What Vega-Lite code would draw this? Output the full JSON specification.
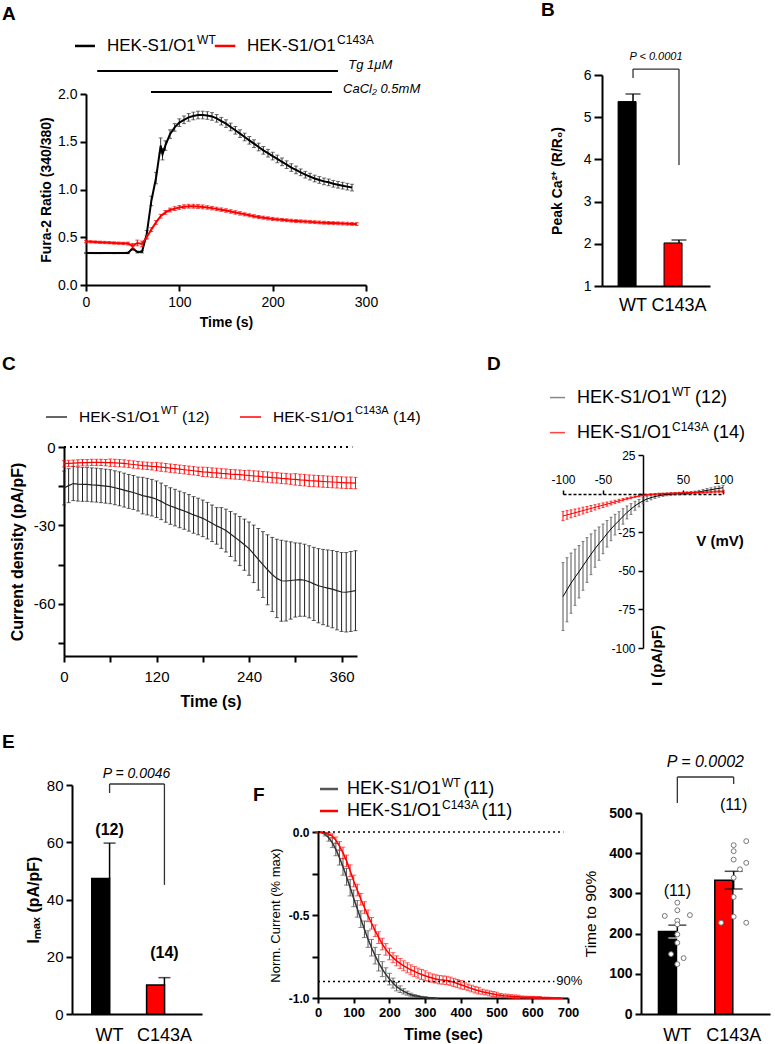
{
"$schema":"https://vega.github.io/schema/vega-lite/v6.json",
"padding":0,
"background":"white",
"config":{
 "view":{"stroke":null},
 "font":"Liberation Sans",
 "axis":{"domainColor":"#000","domainWidth":2,"tickColor":"#000","tickWidth":2,"tickSize":6,"labelColor":"#000","titleColor":"#000","grid":false,"labelFont":"Liberation Sans","titleFont":"Liberation Sans","labelFlush":false,"labelOverlap":false,"labelBound":false,"titleFontWeight":"bold"},
 "text":{"font":"Liberation Sans","color":"#000"}
},
"datasets":{
 "aWT":[{"t":0,"m":0.335,"s":0.006},{"t":5,"m":0.335,"s":0.006},{"t":10,"m":0.334,"s":0.006},{"t":15,"m":0.334,"s":0.006},{"t":20,"m":0.335,"s":0.006},{"t":25,"m":0.335,"s":0.006},{"t":30,"m":0.334,"s":0.006},{"t":35,"m":0.335,"s":0.006},{"t":40,"m":0.335,"s":0.006},{"t":45,"m":0.336,"s":0.008},{"t":50,"m":0.385,"s":0.02},{"t":55,"m":0.345,"s":0.01},{"t":60,"m":0.348,"s":0.012},{"t":65,"m":0.53,"s":0.04},{"t":70,"m":0.88,"s":0.05},{"t":75,"m":1.12,"s":0.06},{"t":80,"m":1.46,"s":0.08},{"t":82,"m":1.37,"s":0.06},{"t":85,"m":1.46,"s":0.05},{"t":90,"m":1.58,"s":0.045},{"t":95,"m":1.65,"s":0.04},{"t":100,"m":1.7,"s":0.04},{"t":105,"m":1.73,"s":0.04},{"t":110,"m":1.755,"s":0.04},{"t":115,"m":1.77,"s":0.04},{"t":120,"m":1.78,"s":0.04},{"t":125,"m":1.78,"s":0.04},{"t":130,"m":1.775,"s":0.04},{"t":135,"m":1.765,"s":0.04},{"t":140,"m":1.745,"s":0.04},{"t":145,"m":1.715,"s":0.04},{"t":150,"m":1.69,"s":0.04},{"t":155,"m":1.655,"s":0.04},{"t":160,"m":1.62,"s":0.04},{"t":165,"m":1.585,"s":0.04},{"t":170,"m":1.55,"s":0.04},{"t":175,"m":1.515,"s":0.04},{"t":180,"m":1.48,"s":0.04},{"t":185,"m":1.445,"s":0.04},{"t":190,"m":1.41,"s":0.04},{"t":195,"m":1.38,"s":0.04},{"t":200,"m":1.35,"s":0.04},{"t":205,"m":1.32,"s":0.04},{"t":210,"m":1.29,"s":0.04},{"t":215,"m":1.26,"s":0.04},{"t":220,"m":1.23,"s":0.04},{"t":225,"m":1.205,"s":0.04},{"t":230,"m":1.18,"s":0.035},{"t":235,"m":1.155,"s":0.035},{"t":240,"m":1.135,"s":0.035},{"t":245,"m":1.115,"s":0.035},{"t":250,"m":1.1,"s":0.035},{"t":255,"m":1.085,"s":0.035},{"t":260,"m":1.075,"s":0.035},{"t":265,"m":1.06,"s":0.035},{"t":270,"m":1.05,"s":0.035},{"t":275,"m":1.04,"s":0.035},{"t":280,"m":1.03,"s":0.035},{"t":285,"m":1.02,"s":0.035}],
 "aMut":[{"t":0,"m":0.455,"s":0.012},{"t":5,"m":0.452,"s":0.012},{"t":10,"m":0.45,"s":0.012},{"t":15,"m":0.447,"s":0.012},{"t":20,"m":0.445,"s":0.012},{"t":25,"m":0.443,"s":0.012},{"t":30,"m":0.44,"s":0.012},{"t":35,"m":0.438,"s":0.012},{"t":40,"m":0.436,"s":0.012},{"t":45,"m":0.434,"s":0.015},{"t":50,"m":0.41,"s":0.025},{"t":55,"m":0.44,"s":0.03},{"t":60,"m":0.43,"s":0.03},{"t":65,"m":0.5,"s":0.02},{"t":70,"m":0.58,"s":0.02},{"t":75,"m":0.655,"s":0.02},{"t":80,"m":0.72,"s":0.02},{"t":85,"m":0.76,"s":0.02},{"t":90,"m":0.785,"s":0.02},{"t":95,"m":0.8,"s":0.02},{"t":100,"m":0.812,"s":0.02},{"t":105,"m":0.82,"s":0.02},{"t":110,"m":0.825,"s":0.02},{"t":115,"m":0.825,"s":0.02},{"t":120,"m":0.822,"s":0.02},{"t":125,"m":0.818,"s":0.02},{"t":130,"m":0.812,"s":0.018},{"t":135,"m":0.805,"s":0.018},{"t":140,"m":0.797,"s":0.018},{"t":145,"m":0.789,"s":0.018},{"t":150,"m":0.78,"s":0.018},{"t":155,"m":0.77,"s":0.018},{"t":160,"m":0.76,"s":0.018},{"t":165,"m":0.75,"s":0.018},{"t":170,"m":0.74,"s":0.016},{"t":175,"m":0.73,"s":0.016},{"t":180,"m":0.72,"s":0.016},{"t":185,"m":0.712,"s":0.016},{"t":190,"m":0.705,"s":0.016},{"t":195,"m":0.698,"s":0.016},{"t":200,"m":0.692,"s":0.016},{"t":205,"m":0.687,"s":0.015},{"t":210,"m":0.682,"s":0.015},{"t":215,"m":0.678,"s":0.015},{"t":220,"m":0.674,"s":0.015},{"t":225,"m":0.67,"s":0.015},{"t":230,"m":0.667,"s":0.015},{"t":235,"m":0.664,"s":0.015},{"t":240,"m":0.661,"s":0.015},{"t":245,"m":0.658,"s":0.015},{"t":250,"m":0.655,"s":0.015},{"t":255,"m":0.652,"s":0.015},{"t":260,"m":0.65,"s":0.015},{"t":265,"m":0.648,"s":0.015},{"t":270,"m":0.646,"s":0.015},{"t":275,"m":0.644,"s":0.015},{"t":280,"m":0.642,"s":0.015},{"t":285,"m":0.64,"s":0.015},{"t":290,"m":0.638,"s":0.015}],
 "bBars":[{"g":"WT","m":5.37,"hi":5.55},{"g":"C143A","m":2.02,"hi":2.09}],
 "cWT":[{"t":0,"m":-15.7,"s":6.5},{"t":6,"m":-14.8,"s":6.5},{"t":12,"m":-14.0,"s":6.5},{"t":18,"m":-14.2,"s":6.5},{"t":24,"m":-14.3,"s":6.5},{"t":30,"m":-14.3,"s":6.5},{"t":36,"m":-14.5,"s":6.5},{"t":42,"m":-14.6,"s":6.5},{"t":48,"m":-14.8,"s":6.5},{"t":54,"m":-15.0,"s":6.5},{"t":60,"m":-15.2,"s":6.5},{"t":66,"m":-15.6,"s":6.5},{"t":72,"m":-16.0,"s":6.5},{"t":78,"m":-16.5,"s":6.5},{"t":84,"m":-17.0,"s":6.5},{"t":90,"m":-17.4,"s":6.5},{"t":96,"m":-18.0,"s":6.5},{"t":102,"m":-18.6,"s":7},{"t":108,"m":-19.0,"s":7},{"t":114,"m":-19.4,"s":7},{"t":120,"m":-20.0,"s":7},{"t":126,"m":-20.8,"s":7},{"t":132,"m":-21.8,"s":7},{"t":138,"m":-22.6,"s":7},{"t":144,"m":-23.2,"s":7},{"t":150,"m":-23.9,"s":7},{"t":156,"m":-24.5,"s":7},{"t":162,"m":-25.2,"s":7},{"t":168,"m":-26.0,"s":7},{"t":174,"m":-26.6,"s":7},{"t":180,"m":-27.3,"s":7},{"t":186,"m":-28.2,"s":7},{"t":192,"m":-29.2,"s":7},{"t":198,"m":-30.2,"s":7},{"t":204,"m":-31.0,"s":7.8},{"t":210,"m":-32.0,"s":8.2},{"t":216,"m":-33.3,"s":8.6},{"t":222,"m":-34.6,"s":9},{"t":228,"m":-36.0,"s":9.4},{"t":234,"m":-37.4,"s":9.8},{"t":240,"m":-38.9,"s":10.2},{"t":246,"m":-40.9,"s":11},{"t":252,"m":-43.0,"s":11.8},{"t":258,"m":-45.0,"s":12.6},{"t":264,"m":-47.0,"s":13.4},{"t":270,"m":-48.8,"s":14.2},{"t":276,"m":-50.3,"s":15},{"t":282,"m":-51.2,"s":15.5},{"t":288,"m":-51.3,"s":15.3},{"t":294,"m":-51.1,"s":14.8},{"t":300,"m":-50.9,"s":14.2},{"t":306,"m":-50.8,"s":14},{"t":312,"m":-51.0,"s":13.8},{"t":318,"m":-51.6,"s":13.8},{"t":324,"m":-52.4,"s":14},{"t":330,"m":-53.1,"s":14.2},{"t":336,"m":-53.6,"s":14.4},{"t":342,"m":-54.0,"s":14.6},{"t":348,"m":-54.4,"s":14.8},{"t":354,"m":-55.0,"s":15},{"t":360,"m":-55.5,"s":15.1},{"t":366,"m":-55.6,"s":15.2},{"t":372,"m":-55.3,"s":15.3},{"t":378,"m":-55.0,"s":15.3}],
 "cMut":[{"t":0,"m":-6.4,"s":1.2},{"t":6,"m":-6.3,"s":1.2},{"t":12,"m":-6.2,"s":1.2},{"t":18,"m":-6.1,"s":1.2},{"t":24,"m":-6.0,"s":1.2},{"t":30,"m":-6.0,"s":1.2},{"t":36,"m":-5.9,"s":1.2},{"t":42,"m":-5.9,"s":1.2},{"t":48,"m":-5.9,"s":1.2},{"t":54,"m":-6.0,"s":1.2},{"t":60,"m":-6.0,"s":1.4},{"t":66,"m":-6.1,"s":1.4},{"t":72,"m":-6.2,"s":1.4},{"t":78,"m":-6.3,"s":1.4},{"t":84,"m":-6.5,"s":1.4},{"t":90,"m":-6.7,"s":1.4},{"t":96,"m":-6.9,"s":1.4},{"t":102,"m":-7.1,"s":1.4},{"t":108,"m":-7.2,"s":1.4},{"t":114,"m":-7.4,"s":1.4},{"t":120,"m":-7.5,"s":1.6},{"t":126,"m":-7.7,"s":1.6},{"t":132,"m":-7.9,"s":1.6},{"t":138,"m":-8.1,"s":1.6},{"t":144,"m":-8.3,"s":1.6},{"t":150,"m":-8.5,"s":1.6},{"t":156,"m":-8.7,"s":1.6},{"t":162,"m":-8.9,"s":1.6},{"t":168,"m":-9.1,"s":1.6},{"t":174,"m":-9.3,"s":1.6},{"t":180,"m":-9.5,"s":1.8},{"t":186,"m":-9.6,"s":1.8},{"t":192,"m":-9.8,"s":1.8},{"t":198,"m":-9.9,"s":1.8},{"t":204,"m":-10.1,"s":1.8},{"t":210,"m":-10.2,"s":1.8},{"t":216,"m":-10.4,"s":1.8},{"t":222,"m":-10.5,"s":1.8},{"t":228,"m":-10.6,"s":1.8},{"t":234,"m":-10.8,"s":1.8},{"t":240,"m":-10.9,"s":2},{"t":246,"m":-11.1,"s":2},{"t":252,"m":-11.2,"s":2},{"t":258,"m":-11.4,"s":2},{"t":264,"m":-11.5,"s":2},{"t":270,"m":-11.7,"s":2},{"t":276,"m":-11.8,"s":2},{"t":282,"m":-12.0,"s":2},{"t":288,"m":-12.1,"s":2},{"t":294,"m":-12.3,"s":2},{"t":300,"m":-12.4,"s":2.2},{"t":306,"m":-12.6,"s":2.2},{"t":312,"m":-12.7,"s":2.2},{"t":318,"m":-12.9,"s":2.2},{"t":324,"m":-13.0,"s":2.2},{"t":330,"m":-13.1,"s":2.2},{"t":336,"m":-13.2,"s":2.2},{"t":342,"m":-13.3,"s":2.2},{"t":348,"m":-13.4,"s":2.2},{"t":354,"m":-13.5,"s":2.2},{"t":360,"m":-13.6,"s":2.2},{"t":366,"m":-13.7,"s":2.2},{"t":372,"m":-13.7,"s":2.2},{"t":378,"m":-13.8,"s":2.2}],
 "dWT":[{"v":-100,"m":-66.7,"s":22},{"v":-95,"m":-62.3,"s":20.8},{"v":-90,"m":-58,"s":19.5},{"v":-85,"m":-54.2,"s":18.2},{"v":-80,"m":-50.6,"s":17},{"v":-75,"m":-46.8,"s":15.8},{"v":-70,"m":-43,"s":14.5},{"v":-65,"m":-39.3,"s":13.2},{"v":-60,"m":-35.7,"s":12},{"v":-55,"m":-32.4,"s":10.8},{"v":-50,"m":-29.3,"s":9.6},{"v":-45,"m":-26,"s":8.6},{"v":-40,"m":-22.9,"s":7.6},{"v":-35,"m":-20.1,"s":6.7},{"v":-30,"m":-17.5,"s":5.8},{"v":-25,"m":-14.8,"s":5},{"v":-20,"m":-12.2,"s":4.2},{"v":-15,"m":-10,"s":3.5},{"v":-10,"m":-7.9,"s":2.9},{"v":-5,"m":-6.2,"s":2.4},{"v":0,"m":-4.7,"s":2},{"v":5,"m":-3.5,"s":1.7},{"v":10,"m":-2.6,"s":1.4},{"v":15,"m":-1.9,"s":1.2},{"v":20,"m":-1.3,"s":1},{"v":25,"m":-0.9,"s":0.9},{"v":30,"m":-0.6,"s":0.8},{"v":35,"m":-0.4,"s":0.75},{"v":40,"m":-0.2,"s":0.7},{"v":45,"m":-0.1,"s":0.7},{"v":50,"m":0,"s":0.7},{"v":55,"m":0.2,"s":0.75},{"v":60,"m":0.4,"s":0.8},{"v":65,"m":0.7,"s":0.9},{"v":70,"m":1.1,"s":1},{"v":75,"m":1.6,"s":1.1},{"v":80,"m":2.1,"s":1.2},{"v":85,"m":2.5,"s":1.3},{"v":90,"m":3,"s":1.4},{"v":95,"m":3.4,"s":1.5},{"v":100,"m":3.8,"s":1.6}],
 "dMut":[{"v":-100,"m":-14.5,"s":3},{"v":-95,"m":-13.8,"s":2.8},{"v":-90,"m":-13.1,"s":2.6},{"v":-85,"m":-12.4,"s":2.45},{"v":-80,"m":-11.7,"s":2.3},{"v":-75,"m":-11,"s":2.2},{"v":-70,"m":-10.3,"s":2},{"v":-65,"m":-9.6,"s":1.9},{"v":-60,"m":-8.9,"s":1.75},{"v":-55,"m":-8.2,"s":1.6},{"v":-50,"m":-7.5,"s":1.5},{"v":-45,"m":-6.8,"s":1.35},{"v":-40,"m":-6.1,"s":1.2},{"v":-35,"m":-5.4,"s":1.1},{"v":-30,"m":-4.7,"s":1},{"v":-25,"m":-4,"s":0.8},{"v":-20,"m":-3.3,"s":0.7},{"v":-15,"m":-2.7,"s":0.6},{"v":-10,"m":-2.1,"s":0.5},{"v":-5,"m":-1.6,"s":0.45},{"v":0,"m":-1.2,"s":0.4},{"v":5,"m":-0.8,"s":0.4},{"v":10,"m":-0.5,"s":0.4},{"v":15,"m":-0.3,"s":0.4},{"v":20,"m":-0.1,"s":0.4},{"v":25,"m":0,"s":0.4},{"v":30,"m":0.1,"s":0.4},{"v":35,"m":0.2,"s":0.45},{"v":40,"m":0.3,"s":0.45},{"v":45,"m":0.4,"s":0.45},{"v":50,"m":0.5,"s":0.45},{"v":55,"m":0.6,"s":0.5},{"v":60,"m":0.65,"s":0.5},{"v":65,"m":0.7,"s":0.5},{"v":70,"m":0.8,"s":0.5},{"v":75,"m":0.85,"s":0.55},{"v":80,"m":0.9,"s":0.55},{"v":85,"m":1,"s":0.55},{"v":90,"m":1.1,"s":0.6},{"v":95,"m":1.2,"s":0.6},{"v":100,"m":1.3,"s":0.6}],
 "eBars":[{"g":"WT","m":47.3,"hi":59.7},{"g":"C143A","m":10.1,"hi":12.7}],
 "fWT":[{"t":0,"m":0,"s":0},{"t":10,"m":-0.003,"s":0.003},{"t":20,"m":-0.014,"s":0.01},{"t":30,"m":-0.035,"s":0.02},{"t":40,"m":-0.064,"s":0.03},{"t":50,"m":-0.105,"s":0.038},{"t":60,"m":-0.154,"s":0.045},{"t":70,"m":-0.21,"s":0.05},{"t":80,"m":-0.27,"s":0.05},{"t":90,"m":-0.335,"s":0.05},{"t":100,"m":-0.4,"s":0.05},{"t":110,"m":-0.463,"s":0.05},{"t":120,"m":-0.525,"s":0.05},{"t":130,"m":-0.586,"s":0.05},{"t":140,"m":-0.645,"s":0.05},{"t":150,"m":-0.697,"s":0.05},{"t":160,"m":-0.745,"s":0.05},{"t":170,"m":-0.788,"s":0.05},{"t":180,"m":-0.826,"s":0.045},{"t":190,"m":-0.858,"s":0.04},{"t":200,"m":-0.886,"s":0.035},{"t":210,"m":-0.91,"s":0.03},{"t":220,"m":-0.932,"s":0.025},{"t":230,"m":-0.947,"s":0.02},{"t":240,"m":-0.96,"s":0.016},{"t":250,"m":-0.971,"s":0.012},{"t":260,"m":-0.98,"s":0.009},{"t":270,"m":-0.986,"s":0.007},{"t":280,"m":-0.99,"s":0.005},{"t":290,"m":-0.994,"s":0.004},{"t":300,"m":-0.996,"s":0.003},{"t":310,"m":-0.998,"s":0.002},{"t":320,"m":-0.999,"s":0.001},{"t":330,"m":-1,"s":0}],
 "fMut":[{"t":0,"m":0,"s":0},{"t":10,"m":-0.001,"s":0.001},{"t":20,"m":-0.006,"s":0.004},{"t":30,"m":-0.013,"s":0.008},{"t":40,"m":-0.024,"s":0.013},{"t":50,"m":-0.05,"s":0.02},{"t":60,"m":-0.084,"s":0.026},{"t":70,"m":-0.126,"s":0.035},{"t":80,"m":-0.174,"s":0.035},{"t":90,"m":-0.233,"s":0.035},{"t":100,"m":-0.295,"s":0.035},{"t":110,"m":-0.35,"s":0.035},{"t":120,"m":-0.405,"s":0.035},{"t":130,"m":-0.455,"s":0.035},{"t":140,"m":-0.505,"s":0.035},{"t":150,"m":-0.55,"s":0.035},{"t":160,"m":-0.595,"s":0.035},{"t":170,"m":-0.636,"s":0.035},{"t":180,"m":-0.675,"s":0.035},{"t":190,"m":-0.707,"s":0.035},{"t":200,"m":-0.735,"s":0.035},{"t":210,"m":-0.757,"s":0.03},{"t":220,"m":-0.776,"s":0.03},{"t":230,"m":-0.792,"s":0.03},{"t":240,"m":-0.806,"s":0.03},{"t":250,"m":-0.818,"s":0.03},{"t":260,"m":-0.83,"s":0.03},{"t":270,"m":-0.84,"s":0.03},{"t":280,"m":-0.85,"s":0.03},{"t":290,"m":-0.858,"s":0.03},{"t":300,"m":-0.866,"s":0.03},{"t":310,"m":-0.873,"s":0.025},{"t":320,"m":-0.88,"s":0.025},{"t":330,"m":-0.885,"s":0.025},{"t":340,"m":-0.89,"s":0.025},{"t":350,"m":-0.892,"s":0.025},{"t":360,"m":-0.894,"s":0.025},{"t":370,"m":-0.899,"s":0.025},{"t":380,"m":-0.906,"s":0.025},{"t":390,"m":-0.913,"s":0.025},{"t":400,"m":-0.92,"s":0.025},{"t":410,"m":-0.928,"s":0.02},{"t":420,"m":-0.936,"s":0.02},{"t":430,"m":-0.943,"s":0.02},{"t":440,"m":-0.95,"s":0.02},{"t":450,"m":-0.956,"s":0.02},{"t":460,"m":-0.962,"s":0.015},{"t":470,"m":-0.967,"s":0.015},{"t":480,"m":-0.972,"s":0.015},{"t":490,"m":-0.976,"s":0.015},{"t":500,"m":-0.98,"s":0.015},{"t":510,"m":-0.983,"s":0.01},{"t":520,"m":-0.986,"s":0.01},{"t":530,"m":-0.988,"s":0.01},{"t":540,"m":-0.99,"s":0.01},{"t":550,"m":-0.992,"s":0.01},{"t":560,"m":-0.993,"s":0.01},{"t":570,"m":-0.994,"s":0.006},{"t":580,"m":-0.995,"s":0.006},{"t":590,"m":-0.996,"s":0.006},{"t":600,"m":-0.996,"s":0.006},{"t":610,"m":-0.997,"s":0.006},{"t":620,"m":-0.997,"s":0.006},{"t":630,"m":-0.998,"s":0.003},{"t":640,"m":-0.998,"s":0.003},{"t":650,"m":-0.999,"s":0.003},{"t":660,"m":-1,"s":0.003},{"t":670,"m":-1,"s":0.003},{"t":680,"m":-1,"s":0.003}],
 "frBars":[{"g":"WT","m":205,"lo":189,"hi":221},{"g":"C143A","m":333,"lo":311,"hi":355}],
 "frPts":[{"g":"WT","col":"c","v":277},{"g":"WT","col":"c","v":258},{"g":"WT","col":"l2","v":244},{"g":"WT","col":"r2","v":246},{"g":"WT","col":"c","v":232},{"g":"WT","col":"c","v":223},{"g":"WT","col":"c","v":198},{"g":"WT","col":"c","v":177},{"g":"WT","col":"l1","v":149},{"g":"WT","col":"r1","v":139},{"g":"WT","col":"c","v":124},{"g":"C143A","col":"r2","v":430},{"g":"C143A","col":"c","v":420},{"g":"C143A","col":"c","v":405},{"g":"C143A","col":"c","v":384},{"g":"C143A","col":"r2","v":376},{"g":"C143A","col":"r1","v":360},{"g":"C143A","col":"c","v":339},{"g":"C143A","col":"c","v":291},{"g":"C143A","col":"c","v":242},{"g":"C143A","col":"l2","v":227},{"g":"C143A","col":"r2","v":227}]
},
"vconcat":[
 {"hconcat":[
  {"width":540,"height":340,"data":{"values":[{}]},"layer":[
   {"data":{"name":"aWT"},"mark":{"type":"errorbar","ticks":true,"color":"#333","size":4,"thickness":1},
    "encoding":{"x":{"field":"t","type":"quantitative","title":"Time (s)","scale":{"domain":[0,300],"range":[86,366],"nice":false,"zero":false},"axis":{"title":"Time (s)","values":[0,100,200,300],"offset":-56,"labelFontSize":14,"titleFontSize":14,"labelPadding":4,"titlePadding":6}},
     "y":{"field":"m","type":"quantitative","title":"Fura-2 Ratio (340/380)","scale":{"domain":[0,2],"range":[284,93],"nice":false,"zero":false},"axis":{"title":"Fura-2 Ratio (340/380)","values":[0,0.5,1,1.5,2],"format":".1f","offset":-86,"labelFontSize":14,"titleFontSize":14,"labelPadding":3,"titlePadding":4}},
     "yError":{"field":"s"}}},
   {"data":{"name":"aWT"},"mark":{"type":"line","color":"#000","strokeWidth":2},"encoding":{"x":{"field":"t","type":"quantitative","title":"Time (s)"},"y":{"field":"m","type":"quantitative","title":"Fura-2 Ratio (340/380)"}}},
   {"data":{"name":"aMut"},"mark":{"type":"errorbar","ticks":true,"color":"#ff0000","size":4,"thickness":1},"encoding":{"x":{"field":"t","type":"quantitative","title":"Time (s)"},"y":{"field":"m","type":"quantitative","title":"Fura-2 Ratio (340/380)"},"yError":{"field":"s"}}},
   {"data":{"name":"aMut"},"mark":{"type":"line","color":"#ff0000","strokeWidth":2},"encoding":{"x":{"field":"t","type":"quantitative","title":"Time (s)"},"y":{"field":"m","type":"quantitative","title":"Fura-2 Ratio (340/380)"}}},
   {"mark":{"type":"text","text":"A","fontSize":19,"fontWeight":"bold","align":"left","baseline":"alphabetic"},"encoding":{"x":{"datum":-90},"y":{"datum":2.775}}},
   {"mark":{"type":"text","text":"B","fontSize":19,"fontWeight":"bold","align":"left","baseline":"alphabetic"},"encoding":{"x":{"datum":487.5},"y":{"datum":2.817}}},
   {"mark":{"type":"rule","color":"#000","strokeWidth":2.5},"encoding":{"x":{"datum":-11.8},"x2":{"datum":9.6},"y":{"datum":2.503}}},
   {"mark":{"type":"rule","color":"#ff0000","strokeWidth":2.5},"encoding":{"x":{"datum":138},"x2":{"datum":160},"y":{"datum":2.503}}},
   {"mark":{"type":"text","text":"HEK-S1/O1","fontSize":17,"align":"left","baseline":"middle"},"encoding":{"x":{"datum":22.5},"y":{"datum":2.503}}},
   {"mark":{"type":"text","text":"WT","fontSize":12,"align":"left","baseline":"middle"},"encoding":{"x":{"datum":119},"y":{"datum":2.565}}},
   {"mark":{"type":"text","text":"HEK-S1/O1","fontSize":17,"align":"left","baseline":"middle"},"encoding":{"x":{"datum":172.5},"y":{"datum":2.503}}},
   {"mark":{"type":"text","text":"C143A","fontSize":12,"align":"left","baseline":"middle"},"encoding":{"x":{"datum":269},"y":{"datum":2.565}}},
   {"mark":{"type":"rule","color":"#000","strokeWidth":2},"encoding":{"x":{"datum":12},"x2":{"datum":270},"y":{"datum":2.241}}},
   {"mark":{"type":"text","text":"Tg 1μM","fontSize":13,"fontStyle":"italic","align":"left","baseline":"middle"},"encoding":{"x":{"datum":281},"y":{"datum":2.304}}},
   {"mark":{"type":"rule","color":"#000","strokeWidth":2},"encoding":{"x":{"datum":69.6},"x2":{"datum":263.6},"y":{"datum":2.021}}},
   {"mark":{"type":"text","text":"CaCl₂ 0.5mM","fontSize":13,"fontStyle":"italic","align":"left","baseline":"middle"},"encoding":{"x":{"datum":275.4},"y":{"datum":2.052}}}
  ]},
  {"width":235,"height":340,"data":{"name":"bBars"},"layer":[
   {"mark":{"type":"bar","stroke":"#000","strokeWidth":1},
    "encoding":{"x":{"field":"g","type":"nominal","scale":{"type":"band","domain":["WT","C143A"],"range":[62,170],"paddingInner":0.35,"paddingOuter":0.35},"axis":{"title":null,"ticks":false,"labelAngle":0,"labelFontSize":18,"labelPadding":10,"offset":-55}},
     "y":{"field":"m","type":"quantitative","title":"Peak Ca²⁺ (R/R₀)","scale":{"domain":[1,6],"range":[285,74],"nice":false,"zero":false},"axis":{"title":"Peak Ca²⁺ (R/R₀)","values":[1,2,3,4,5,6],"format":"d","offset":-62,"tickSize":8,"labelFontSize":14,"titleFontSize":14,"labelPadding":3,"titlePadding":19}},
     "y2":{"datum":1},
     "color":{"field":"g","type":"nominal","scale":{"domain":["WT","C143A"],"range":["#000000","#ff0000"]},"legend":null}}},
   {"mark":{"type":"rule","color":"#000","strokeWidth":1.5},"encoding":{"x":{"field":"g","type":"nominal"},"y":{"field":"m","type":"quantitative","title":"Peak Ca²⁺ (R/R₀)"},"y2":{"field":"hi"}}},
   {"mark":{"type":"tick","orient":"horizontal","size":15,"thickness":1.5,"color":"#000"},"encoding":{"x":{"field":"g","type":"nominal"},"y":{"field":"hi","type":"quantitative","title":"Peak Ca²⁺ (R/R₀)"}}},
   {"data":{"values":[{}]},"layer":[
    {"mark":{"type":"rule","color":"#333","strokeWidth":1.3},"encoding":{"x":{"datum":"WT"},"x2":{"datum":"C143A"},"y":{"datum":6.14}}},
    {"mark":{"type":"rule","color":"#333","strokeWidth":1.3},"encoding":{"x":{"datum":"WT"},"y":{"datum":6.14},"y2":{"datum":5.93}}},
    {"mark":{"type":"rule","color":"#333","strokeWidth":1.3},"encoding":{"x":{"datum":"C143A"},"y":{"datum":6.14},"y2":{"datum":3.87}}},
    {"mark":{"type":"text","text":"P < 0.0001","fontSize":11,"fontStyle":"italic","align":"center","baseline":"middle","dx":23},"encoding":{"x":{"datum":"WT"},"y":{"datum":6.43}}}
   ]}
  ]}
 ],"spacing":0,"bounds":"flush"},
 {"hconcat":[
  {"width":480,"height":380,"data":{"values":[{}]},"layer":[
   {"data":{"name":"cWT"},"mark":{"type":"errorbar","ticks":true,"color":"#222","size":4,"thickness":1},
    "encoding":{"x":{"field":"t","type":"quantitative","title":"Time  (s)","scale":{"domain":[0,380],"range":[64,357],"nice":false,"zero":false},"axis":{"title":"Time  (s)","values":[0,60,120,180,240,300,360],"labelExpr":"datum.value % 120 == 0 ? datum.label : ''","offset":-65,"labelFontSize":15,"titleFontSize":16,"labelPadding":7,"titlePadding":9}},
     "y":{"field":"m","type":"quantitative","title":"Current density (pA/pF)","scale":{"domain":[-80,0],"range":[315,106],"nice":false,"zero":false},"axis":{"title":"Current density (pA/pF)","values":[-75,-60,-45,-30,-15,0],"labelExpr":"datum.value % 30 == 0 ? replace(datum.label,'−','-') : ''","offset":-64,"labelFontSize":15,"titleFontSize":16,"labelPadding":3,"titlePadding":8}},
     "yError":{"field":"s"}}},
   {"data":{"name":"cWT"},"mark":{"type":"line","color":"#222","strokeWidth":1.2},"encoding":{"x":{"field":"t","type":"quantitative","title":"Time  (s)"},"y":{"field":"m","type":"quantitative","title":"Current density (pA/pF)"}}},
   {"data":{"name":"cMut"},"mark":{"type":"errorbar","ticks":true,"color":"#ff0000","size":4,"thickness":1},"encoding":{"x":{"field":"t","type":"quantitative","title":"Time  (s)"},"y":{"field":"m","type":"quantitative","title":"Current density (pA/pF)"},"yError":{"field":"s"}}},
   {"data":{"name":"cMut"},"mark":{"type":"line","color":"#ff0000","strokeWidth":1.2},"encoding":{"x":{"field":"t","type":"quantitative","title":"Time  (s)"},"y":{"field":"m","type":"quantitative","title":"Current density (pA/pF)"}}},
   {"mark":{"type":"rule","color":"#000","strokeWidth":2,"strokeDash":[2,4]},"encoding":{"x":{"datum":0},"x2":{"datum":374},"y":{"datum":0}}},
   {"mark":{"type":"text","text":"C","fontSize":19,"fontWeight":"bold","align":"left","baseline":"alphabetic"},"encoding":{"x":{"datum":-80.4},"y":{"datum":29.47}}},
   {"mark":{"type":"text","text":"D","fontSize":19,"fontWeight":"bold","align":"left","baseline":"alphabetic"},"encoding":{"x":{"datum":548.6},"y":{"datum":29.47}}},
   {"mark":{"type":"rule","color":"#333","strokeWidth":1.5},"encoding":{"x":{"datum":-23.3},"x2":{"datum":3.9},"y":{"datum":11.48}}},
   {"mark":{"type":"rule","color":"#ff0000","strokeWidth":1.5},"encoding":{"x":{"datum":228.3},"x2":{"datum":255.5},"y":{"datum":11.48}}},
   {"mark":{"type":"text","text":"HEK-S1/O1","fontSize":15.5,"align":"left","baseline":"middle"},"encoding":{"x":{"datum":19.45},"y":{"datum":11.48}}},
   {"mark":{"type":"text","text":"WT","fontSize":11,"align":"left","baseline":"middle"},"encoding":{"x":{"datum":125.8},"y":{"datum":13.78}}},
   {"mark":{"type":"text","text":"(12)","fontSize":15.5,"align":"left","baseline":"middle"},"encoding":{"x":{"datum":153},"y":{"datum":11.48}}},
   {"mark":{"type":"text","text":"HEK-S1/O1","fontSize":15.5,"align":"left","baseline":"middle"},"encoding":{"x":{"datum":271.1},"y":{"datum":11.48}}},
   {"mark":{"type":"text","text":"C143A","fontSize":11,"align":"left","baseline":"middle"},"encoding":{"x":{"datum":377.4},"y":{"datum":13.78}}},
   {"mark":{"type":"text","text":"(14)","fontSize":15.5,"align":"left","baseline":"middle"},"encoding":{"x":{"datum":426.7},"y":{"datum":11.48}}}
  ]},
  {"width":295,"height":380,"data":{"values":[{}]},"layer":[
   {"data":{"name":"dWT"},"mark":{"type":"errorbar","ticks":true,"color":"#555","size":3,"thickness":1},
    "encoding":{"x":{"field":"v","type":"quantitative","title":null,"scale":{"domain":[-100,100],"range":[83,243],"nice":false,"zero":false},"axis":{"orient":"top","offset":-153,"values":[-100,-50,50,100],"labelExpr":"replace(datum.label,'−','-')","title":null,"labelFontSize":12,"domainDash":[3,2],"domainWidth":1.5,"tickSize":4,"tickWidth":1.5,"labelPadding":4}},
     "y":{"field":"m","type":"quantitative","title":null,"scale":{"domain":[-100,25],"range":[307,114],"nice":false,"zero":false},"axis":{"orient":"left","offset":-163,"values":[-100,-87.5,-75,-62.5,-50,-37.5,-25,-12.5,0,12.5,25],"labelExpr":"datum.value % 25 == 0 && datum.value != 0 ? replace(datum.label,'−','-') : ''","title":null,"labelFontSize":12,"tickSize":5,"tickWidth":1.5,"domainWidth":1.5,"labelPadding":3}},
     "yError":{"field":"s"}}},
   {"data":{"name":"dWT"},"mark":{"type":"line","color":"#000","strokeWidth":1},"encoding":{"x":{"field":"v","type":"quantitative","title":null},"y":{"field":"m","type":"quantitative","title":null}}},
   {"data":{"name":"dMut"},"mark":{"type":"errorbar","ticks":true,"color":"#ff0000","size":3,"thickness":1},"encoding":{"x":{"field":"v","type":"quantitative","title":null},"y":{"field":"m","type":"quantitative","title":null},"yError":{"field":"s"}}},
   {"data":{"name":"dMut"},"mark":{"type":"line","color":"#ff0000","strokeWidth":1},"encoding":{"x":{"field":"v","type":"quantitative","title":null},"y":{"field":"m","type":"quantitative","title":null}}},
   {"mark":{"type":"text","text":"V (mV)","fontSize":15,"fontWeight":"bold","align":"center","baseline":"middle"},"encoding":{"x":{"datum":96.25},"y":{"datum":-30.4}}},
   {"mark":{"type":"text","text":"I (pA/pF)","fontSize":15,"fontWeight":"bold","align":"center","baseline":"middle","angle":270},"encoding":{"x":{"datum":17.5},"y":{"datum":-104.9}}},
   {"mark":{"type":"rule","color":"#888","strokeWidth":1.5},"encoding":{"x":{"datum":-116.25},"x2":{"datum":-97.5},"y":{"datum":62.2}}},
   {"mark":{"type":"rule","color":"#ff4444","strokeWidth":1.5},"encoding":{"x":{"datum":-116.25},"x2":{"datum":-97.5},"y":{"datum":39.5}}},
   {"mark":{"type":"text","text":"HEK-S1/O1","fontSize":18,"align":"left","baseline":"middle"},"encoding":{"x":{"datum":-82.5},"y":{"datum":62.2}}},
   {"mark":{"type":"text","text":"WT","fontSize":12,"align":"left","baseline":"middle"},"encoding":{"x":{"datum":36.25},"y":{"datum":66.1}}},
   {"mark":{"type":"text","text":"(12)","fontSize":18,"align":"left","baseline":"middle"},"encoding":{"x":{"datum":65},"y":{"datum":62.2}}},
   {"mark":{"type":"text","text":"HEK-S1/O1","fontSize":18,"align":"left","baseline":"middle"},"encoding":{"x":{"datum":-82.5},"y":{"datum":39.5}}},
   {"mark":{"type":"text","text":"C143A","fontSize":12,"align":"left","baseline":"middle"},"encoding":{"x":{"datum":36.25},"y":{"datum":43.4}}},
   {"mark":{"type":"text","text":"(14)","fontSize":18,"align":"left","baseline":"middle"},"encoding":{"x":{"datum":87.5},"y":{"datum":39.5}}}
  ]}
 ],"spacing":0,"bounds":"flush"},
 {"hconcat":[
  {"width":250,"height":324,"data":{"name":"eBars"},"layer":[
   {"mark":{"type":"bar","stroke":"#000","strokeWidth":1.5},
    "encoding":{"x":{"field":"g","type":"nominal","scale":{"type":"band","domain":["WT","C143A"],"range":[72,202],"paddingInner":0.35,"paddingOuter":0.36},"axis":{"title":null,"ticks":false,"labelAngle":0,"labelFontSize":18,"labelPadding":12,"offset":-31}},
     "y":{"field":"m","type":"quantitative","title":"Iₘₐₓ (pA/pF)","scale":{"domain":[0,80],"range":[293,64],"nice":false},"axis":{"title":"Iₘₐₓ (pA/pF)","values":[0,20,40,60,80],"offset":-72,"labelFontSize":15,"titleFontSize":16,"labelPadding":3,"titlePadding":5}},
     "color":{"field":"g","type":"nominal","scale":{"domain":["WT","C143A"],"range":["#000000","#ff0000"]},"legend":null}}},
   {"mark":{"type":"rule","color":"#000","strokeWidth":1.5},"encoding":{"x":{"field":"g","type":"nominal"},"y":{"field":"m","type":"quantitative","title":"Iₘₐₓ (pA/pF)"},"y2":{"field":"hi"}}},
   {"mark":{"type":"tick","orient":"horizontal","size":12,"thickness":1.5,"color":"#000"},"encoding":{"x":{"field":"g","type":"nominal"},"y":{"field":"hi","type":"quantitative","title":"Iₘₐₓ (pA/pF)"}}},
   {"data":{"values":[{}]},"layer":[
    {"mark":{"type":"rule","color":"#333","strokeWidth":1.3},"encoding":{"x":{"datum":"WT"},"x2":{"datum":"C143A"},"y":{"datum":80.35}}},
    {"mark":{"type":"rule","color":"#333","strokeWidth":1.3},"encoding":{"x":{"datum":"WT"},"y":{"datum":80.35},"y2":{"datum":77.2}}},
    {"mark":{"type":"rule","color":"#333","strokeWidth":1.3},"encoding":{"x":{"datum":"C143A"},"y":{"datum":80.35},"y2":{"datum":45.1}}},
    {"mark":{"type":"text","text":"P = 0.0046","fontSize":14,"fontStyle":"italic","align":"center","baseline":"middle","dx":27},"encoding":{"x":{"datum":"WT"},"y":{"datum":83.8}}},
    {"mark":{"type":"text","text":"(12)","fontSize":16,"fontWeight":"bold","align":"center","baseline":"middle"},"encoding":{"x":{"datum":"WT"},"y":{"datum":64.3}}},
    {"mark":{"type":"text","text":"(14)","fontSize":16,"fontWeight":"bold","align":"center","baseline":"middle"},"encoding":{"x":{"datum":"C143A"},"y":{"datum":21.3}}}
   ]}
  ]},
  {"width":310,"height":324,"data":{"values":[{}]},"layer":[
   {"data":{"name":"fWT"},"mark":{"type":"errorbar","ticks":true,"color":"#555","size":5,"thickness":1},
    "encoding":{"x":{"field":"t","type":"quantitative","title":"Time (sec)","scale":{"domain":[0,700],"range":[68,318],"nice":false,"zero":false},"axis":{"title":"Time (sec)","values":[0,50,100,150,200,250,300,350,400,450,500,550,600,650,700],"labelExpr":"datum.value % 100 == 0 ? datum.label : ''","offset":-47,"labelFontWeight":"bold","labelFontSize":13,"titleFontSize":16,"tickSize":5,"labelPadding":3,"titlePadding":7}},
     "y":{"field":"m","type":"quantitative","title":"Norm. Current  (% max)","scale":{"domain":[-1,0],"range":[277,111],"nice":false,"zero":false},"axis":{"title":"Norm. Current  (% max)","values":[-1,-0.75,-0.5,-0.25,0],"labelExpr":"datum.value % 0.5 == 0 ? replace(format(datum.value,'.1f'),'−','-') : ''","titleFontWeight":"normal","titleFontSize":13,"labelFontWeight":"bold","labelFontSize":12,"offset":-68,"labelPadding":3,"titlePadding":6}},
     "yError":{"field":"s"}}},
   {"data":{"name":"fWT"},"mark":{"type":"line","color":"#333","strokeWidth":1.5},"encoding":{"x":{"field":"t","type":"quantitative","title":"Time (sec)"},"y":{"field":"m","type":"quantitative","title":"Norm. Current  (% max)"}}},
   {"data":{"name":"fMut"},"mark":{"type":"errorbar","ticks":true,"color":"#ff2020","size":5,"thickness":1},"encoding":{"x":{"field":"t","type":"quantitative","title":"Time (sec)"},"y":{"field":"m","type":"quantitative","title":"Norm. Current  (% max)"},"yError":{"field":"s"}}},
   {"data":{"name":"fMut"},"mark":{"type":"line","color":"#ff0000","strokeWidth":1.5},"encoding":{"x":{"field":"t","type":"quantitative","title":"Time (sec)"},"y":{"field":"m","type":"quantitative","title":"Norm. Current  (% max)"}}},
   {"mark":{"type":"rule","color":"#000","strokeWidth":1.5,"strokeDash":[2,3]},"encoding":{"x":{"datum":0},"x2":{"datum":687},"y":{"datum":0}}},
   {"mark":{"type":"rule","color":"#000","strokeWidth":1.5,"strokeDash":[2,3]},"encoding":{"x":{"datum":0},"x2":{"datum":662},"y":{"datum":-0.9}}},
   {"mark":{"type":"text","text":"90%","fontSize":13,"align":"left","baseline":"middle"},"encoding":{"x":{"datum":667},"y":{"datum":-0.9}}},
   {"mark":{"type":"text","text":"E","fontSize":19,"fontWeight":"bold","align":"left","baseline":"alphabetic"},"encoding":{"x":{"datum":-884.8},"y":{"datum":0.506}}},
   {"mark":{"type":"text","text":"F","fontSize":19,"fontWeight":"bold","align":"left","baseline":"alphabetic"},"encoding":{"x":{"datum":-182},"y":{"datum":0.187}}},
   {"mark":{"type":"rule","color":"#555","strokeWidth":2.5},"encoding":{"x":{"datum":5.6},"x2":{"datum":56},"y":{"datum":0.259}}},
   {"mark":{"type":"rule","color":"#ff0000","strokeWidth":2.5},"encoding":{"x":{"datum":5.6},"x2":{"datum":56},"y":{"datum":0.1265}}},
   {"mark":{"type":"text","text":"HEK-S1/O1","fontSize":18,"align":"left","baseline":"middle"},"encoding":{"x":{"datum":81.2},"y":{"datum":0.259}}},
   {"mark":{"type":"text","text":"WT","fontSize":12,"align":"left","baseline":"middle"},"encoding":{"x":{"datum":347.2},"y":{"datum":0.295}}},
   {"mark":{"type":"text","text":"(11)","fontSize":18,"align":"left","baseline":"middle"},"encoding":{"x":{"datum":407.5},"y":{"datum":0.259}}},
   {"mark":{"type":"text","text":"HEK-S1/O1","fontSize":18,"align":"left","baseline":"middle"},"encoding":{"x":{"datum":81.2},"y":{"datum":0.1265}}},
   {"mark":{"type":"text","text":"C143A","fontSize":12,"align":"left","baseline":"middle"},"encoding":{"x":{"datum":347.2},"y":{"datum":0.163}}},
   {"mark":{"type":"text","text":"(11)","fontSize":18,"align":"left","baseline":"middle"},"encoding":{"x":{"datum":458},"y":{"datum":0.1265}}}
  ]},
  {"width":215,"height":324,"data":{"name":"frBars"},"layer":[
   {"mark":{"type":"bar","stroke":"#000","strokeWidth":1.5},
    "encoding":{"x":{"field":"g","type":"nominal","scale":{"type":"band","domain":["WT","C143A"],"range":[81,210],"paddingInner":0.33,"paddingOuter":0.31},"axis":{"title":null,"ticks":false,"labelAngle":0,"labelFontSize":18,"labelPadding":12,"offset":-31}},
     "y":{"field":"m","type":"quantitative","title":"Time to 90%","scale":{"domain":[0,500],"range":[293,92],"nice":false},"axis":{"title":"Time to 90%","values":[0,100,200,300,400,500],"offset":-81,"labelFontSize":14,"labelFontWeight":"bold","titleFontSize":15.5,"titleFontWeight":"normal","labelPadding":3,"titlePadding":10}},
     "color":{"field":"g","type":"nominal","scale":{"domain":["WT","C143A"],"range":["#000000","#ff0000"]},"legend":null}}},
   {"mark":{"type":"rule","color":"#000","strokeWidth":1.5},"encoding":{"x":{"field":"g","type":"nominal"},"y":{"field":"m","type":"quantitative","title":"Time to 90%"},"y2":{"field":"hi"}}},
   {"mark":{"type":"tick","orient":"horizontal","size":18,"thickness":1.5,"color":"#000"},"encoding":{"x":{"field":"g","type":"nominal"},"y":{"field":"hi","type":"quantitative","title":"Time to 90%"}}},
   {"transform":[{"filter":"datum.g == 'C143A'"}],"mark":{"type":"rule","color":"#000","strokeWidth":1.5},"encoding":{"x":{"field":"g","type":"nominal"},"y":{"field":"lo","type":"quantitative","title":"Time to 90%"},"y2":{"field":"m"}}},
   {"transform":[{"filter":"datum.g == 'C143A'"}],"mark":{"type":"tick","orient":"horizontal","size":18,"thickness":1.5,"color":"#000"},"encoding":{"x":{"field":"g","type":"nominal"},"y":{"field":"lo","type":"quantitative","title":"Time to 90%"}}},
   {"transform":[{"filter":"datum.g == 'WT'"}],"mark":{"type":"rule","color":"#fff","strokeWidth":1.5},"encoding":{"x":{"field":"g","type":"nominal"},"y":{"field":"lo","type":"quantitative","title":"Time to 90%"},"y2":{"field":"m"}}},
   {"transform":[{"filter":"datum.g == 'WT'"}],"mark":{"type":"tick","orient":"horizontal","size":18,"thickness":1.5,"color":"#fff"},"encoding":{"x":{"field":"g","type":"nominal"},"y":{"field":"lo","type":"quantitative","title":"Time to 90%"}}},
   {"data":{"name":"frPts"},"mark":{"type":"point","filled":true,"fill":"#fff","stroke":"#777","strokeWidth":1,"size":24,"opacity":1},"encoding":{"x":{"field":"g","type":"nominal"},"xOffset":{"field":"col","type":"nominal","scale":{"domain":["l2","l1","c","r1","r2"],"paddingInner":0,"paddingOuter":1.4}},"y":{"field":"v","type":"quantitative","title":"Time to 90%"}}},
   {"data":{"values":[{}]},"layer":[
    {"mark":{"type":"rule","color":"#333","strokeWidth":1.3},"encoding":{"x":{"datum":"WT"},"x2":{"datum":"C143A"},"y":{"datum":589.6}}},
    {"mark":{"type":"rule","color":"#333","strokeWidth":1.3},"encoding":{"x":{"datum":"WT"},"y":{"datum":589.6},"y2":{"datum":525}}},
    {"mark":{"type":"rule","color":"#333","strokeWidth":1.3},"encoding":{"x":{"datum":"C143A"},"y":{"datum":589.6},"y2":{"datum":572}}},
    {"mark":{"type":"text","text":"P = 0.0002","fontSize":16,"fontStyle":"italic","align":"center","baseline":"middle","dx":28},"encoding":{"x":{"datum":"WT"},"y":{"datum":627}}},
    {"mark":{"type":"text","text":"(11)","fontSize":16,"align":"center","baseline":"middle"},"encoding":{"x":{"datum":"WT"},"y":{"datum":306}}},
    {"mark":{"type":"text","text":"(11)","fontSize":16,"align":"center","baseline":"middle"},"encoding":{"x":{"datum":"C143A"},"y":{"datum":520}}}
   ]}
  ]}
 ],"spacing":0,"bounds":"flush"}
],
"spacing":0
}
